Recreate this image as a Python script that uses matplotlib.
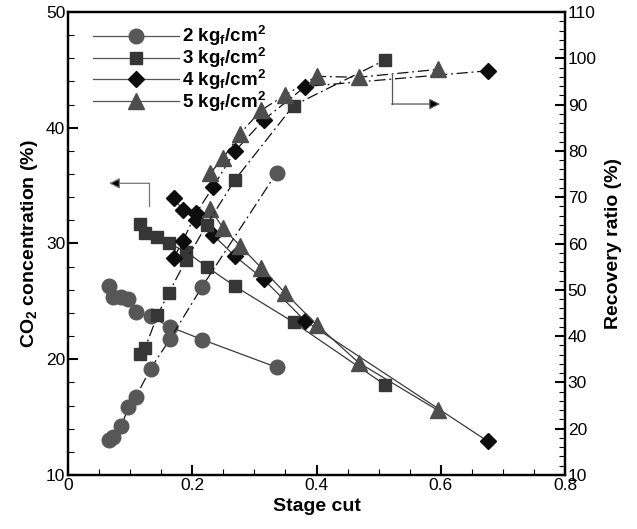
import matplotlib
matplotlib.use('Agg')
import matplotlib.pyplot as plt
from matplotlib.lines import Line2D
from matplotlib.ticker import MultipleLocator

plt.rcParams['font.family'] = ['Liberation Sans', 'DejaVu Sans']
plt.rcParams['mathtext.fontset'] = 'custom'
plt.rcParams['mathtext.rm'] = 'Liberation Sans:bold'
plt.rcParams['mathtext.it'] = 'Liberation Sans:bold'
plt.rcParams['mathtext.bf'] = 'Liberation Sans:bold'

# stage cut / CO2 concentration (%) / recovery ratio (%)
cut_2 = [0.066, 0.072, 0.086, 0.097, 0.109, 0.133, 0.164, 0.216, 0.336]
conc_2 = [26.3, 25.4, 25.4, 25.2, 24.1, 23.7, 22.8, 21.7, 19.3]
rec_2 = [17.5, 18.3, 20.5, 24.7, 26.8, 33.0, 39.3, 50.7, 75.3]

cut_3 = [0.116, 0.124, 0.144, 0.162, 0.190, 0.223, 0.269, 0.363, 0.510]
conc_3 = [31.7, 30.9, 30.6, 30.0, 29.3, 28.0, 26.3, 23.2, 17.8]
rec_3 = [36.1, 37.4, 44.5, 49.3, 56.4, 64.0, 73.8, 89.8, 99.6]

cut_4 = [0.170, 0.185, 0.206, 0.234, 0.269, 0.315, 0.382, 0.676]
conc_4 = [33.9, 32.9, 32.0, 30.7, 28.9, 26.9, 23.3, 12.9]
rec_4 = [56.8, 60.6, 66.5, 72.3, 80.0, 86.7, 93.9, 97.3]

cut_5 = [0.229, 0.250, 0.277, 0.311, 0.350, 0.400, 0.468, 0.595]
conc_5 = [33.0, 31.3, 29.8, 27.9, 25.7, 23.0, 19.7, 15.6]
rec_5 = [75.2, 78.5, 83.7, 88.8, 92.1, 96.1, 95.9, 97.6]

labels = ['2 kg$_f$/cm$^2$', '3 kg$_f$/cm$^2$', '4 kg$_f$/cm$^2$', '5 kg$_f$/cm$^2$']

series = [
    (cut_2, conc_2, rec_2, 'o', 10.5, '#575757'),
    (cut_3, conc_3, rec_3, 's', 8.5, '#363636'),
    (cut_4, conc_4, rec_4, 'D', 8, '#0d0d0d'),
    (cut_5, conc_5, rec_5, '^', 11, '#4d4d4d'),
]

fig = plt.figure(figsize=(6.37, 5.29), dpi=100)
ax = fig.add_axes([68 / 637, 1 - 475 / 529, 497 / 637, 463 / 529])
ax2 = ax.twinx()

handles = []
for (x, c, r, m, ms, col), lab in zip(series, labels):
    ax.plot(x, c, '-', color='#3a3a3a', lw=0.9, marker=m, ms=ms,
            mfc=col, mec=col, zorder=3)
    ax2.plot(x, r, color='#111111', lw=0.9, ls=(0, (9, 3, 1.5, 3)),
             marker=m, ms=ms, mfc=col, mec=col, zorder=3)
    handles.append(Line2D([], [], color='#555555', lw=0.9, marker=m, ms=ms,
                          mfc=col, mec=col))

# arrows pointing to the axes
ax.plot([0.131, 0.131], [33.2, 35.2], color='#777777', lw=0.9)
ax.annotate('', xy=(0.066, 35.2), xytext=(0.131, 35.2),
            arrowprops=dict(arrowstyle='-|>', color='#777777', lw=0.9, fc='black',
                            mutation_scale=16, shrinkA=0, shrinkB=0))
ax.plot([0.521, 0.521], [44.6, 42.05], color='#555555', lw=0.9)
ax.annotate('', xy=(0.599, 42.05), xytext=(0.521, 42.05),
            arrowprops=dict(arrowstyle='-|>', color='#555555', lw=0.9,
                            fc='black', mutation_scale=16, shrinkA=0, shrinkB=0))

ax.set_xlim(0, 0.8)
ax.set_ylim(10, 50)
ax2.set_ylim(10, 110)
ax.xaxis.set_major_locator(MultipleLocator(0.2))
ax.xaxis.set_minor_locator(MultipleLocator(0.05))
ax.yaxis.set_major_locator(MultipleLocator(10))
ax.yaxis.set_minor_locator(MultipleLocator(2))
ax2.yaxis.set_major_locator(MultipleLocator(10))
ax2.yaxis.set_minor_locator(MultipleLocator(2))
ax.set_xticks([0, 0.2, 0.4, 0.6, 0.8], ['0', '0.2', '0.4', '0.6', '0.8'])

for a in (ax, ax2):
    a.tick_params(which='major', direction='in', length=7, width=1.5, labelsize=12.5, pad=2)
    a.tick_params(which='minor', direction='in', length=4, width=0.8)
    for s in a.spines.values():
        s.set_linewidth(1.6)
ax.tick_params(axis='y', right=False)

ax.set_xlabel('Stage cut', fontsize=14, fontweight='bold', labelpad=4)
ax.set_ylabel('CO$_2$ concentration (%)', fontsize=14, fontweight='bold', labelpad=4)
ax2.set_ylabel('Recovery ratio (%)', fontsize=14, fontweight='bold', labelpad=6)

ax.legend(handles, labels, loc='upper left', bbox_to_anchor=(0.035, 0.99),
          frameon=False, handlelength=4.6, handletextpad=0.15,
          labelspacing=-0.12, borderaxespad=0, prop={'weight': 'bold', 'size': 13.5})

fig.savefig('out.png', dpi=100)
